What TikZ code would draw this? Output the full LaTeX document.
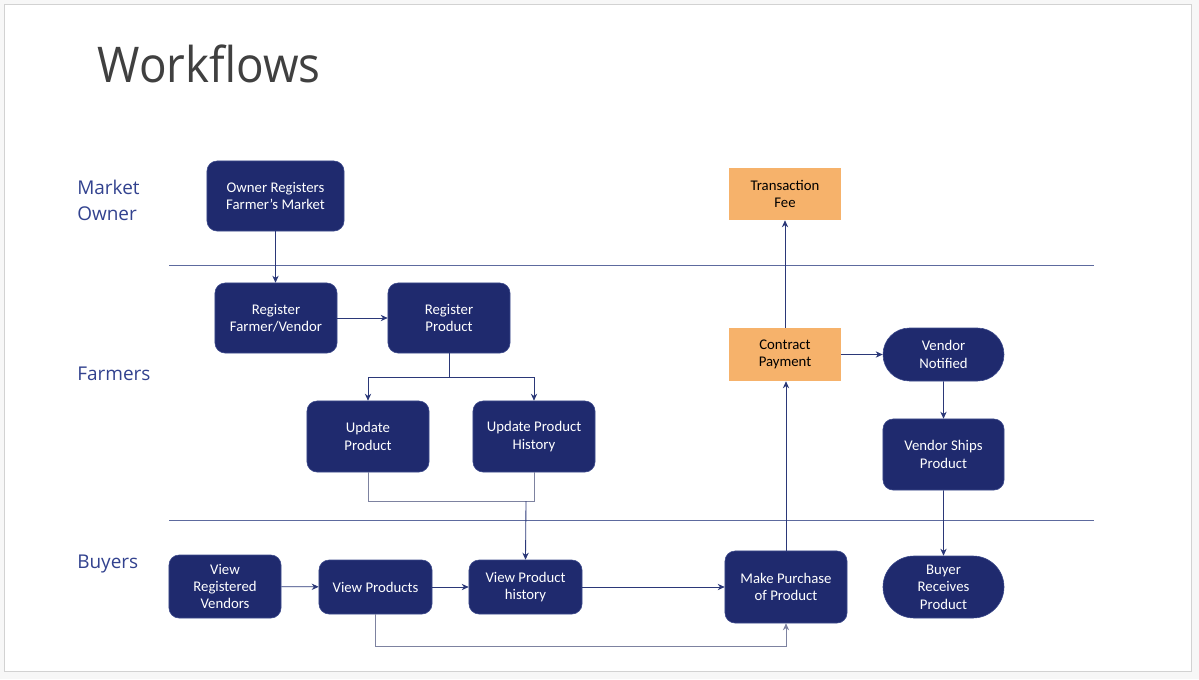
\documentclass[tikz,border=0pt]{standalone}
\usepackage{fontspec}
\setmainfont{Carlito}
\newfontfamily\lanefont{Open Sans}
\usepackage{tikz}
\usetikzlibrary{arrows.meta}
\usetikzlibrary{shapes.misc}

\definecolor{navy}{HTML}{1F2A6E}
\definecolor{navyedge}{HTML}{3C4A8C}
\definecolor{feeorange}{HTML}{F6B26B}
\definecolor{flowline}{HTML}{2B3878}
\definecolor{laneline}{HTML}{5D6A9E}
\definecolor{lanetext}{HTML}{32428F}
\definecolor{softline}{HTML}{7D82A0}
\definecolor{titlegray}{HTML}{404040}

\tikzset{
  task/.style={draw=navyedge, fill=navy, text=white, rounded corners=0.25cm,
    align=center, inner sep=0pt, font=\fontsize{10.5}{12.4}\selectfont},
  fee/.style={fill=feeorange, text=black, align=center, inner sep=0pt,
    font=\fontsize{10.5}{12.4}\selectfont},
  event/.style={draw=navyedge, fill=navy, text=white, rounded rectangle,
    align=center, inner sep=0pt, font=\fontsize{10.5}{12.4}\selectfont},
  lane/.style={text=lanetext, align=left, anchor=west, inner sep=0pt,
    font=\lanefont\fontsize{13.5}{19}\selectfont},
}

\begin{document}
\begin{tikzpicture}[x=0.025cm, y=-0.025cm]
\useasboundingbox (0,0) rectangle (1199,679);
\fill[gray!6] (0,0) rectangle (1199,679);
\draw[gray!35, fill=white] (4,4) rectangle (1191,671);

\node[anchor=west, text=titlegray, font=\lanefont\fontsize{35}{40}\selectfont, xscale=0.93] (title) at (93,64) {Workflows};

% swim lanes
\node[lane] (owners) at (77,200.5) {Market\\Owner};
\node[lane] (farmers) at (77,374) {Farmers};
\node[lane] (buyers) at (77,564) {Buyers};
\draw[laneline, line width=0.7pt] (169,265) -- (1094,265);
\draw[laneline, line width=0.7pt] (169,520) -- (1094,520);

% market owner
\node[task, minimum width=3.425cm, minimum height=1.75cm] (ownreg) at (275.5,196) {Owner Registers\\Farmer's Market};
\node[fee, minimum width=2.8cm, minimum height=1.3cm] (txfee) at (785,194) {Transaction\\Fee};

% farmers
\node[task, minimum width=3.05cm, minimum height=1.75cm] (regfarmer) at (276,318) {Register\\Farmer/Vendor};
\node[task, minimum width=3.05cm, minimum height=1.75cm] (regprod) at (449,318) {Register\\Product};
\node[task, minimum width=3.05cm, minimum height=1.775cm] (updprod) at (368,436.5) {Update\\Product};
\node[task, minimum width=3.05cm, minimum height=1.775cm] (updhist) at (534,436.5) {Update Product\\History};
\node[fee, minimum width=2.8cm, minimum height=1.325cm] (contract) at (785,354.5) {Contract\\Payment};
\node[event, minimum width=3.025cm, minimum height=1.325cm] (notified) at (943.5,354.5) {Vendor\\Notified};
\node[task, minimum width=3.025cm, minimum height=1.775cm] (ships) at (943.5,454.5) {Vendor Ships\\Product};

% buyers
\node[task, minimum width=2.8cm, minimum height=1.575cm] (viewreg) at (225,586.5) {View\\Registered\\Vendors};
\node[task, minimum width=2.825cm, minimum height=1.35cm] (viewprod) at (375.5,587) {View Products};
\node[task, minimum width=2.825cm, minimum height=1.35cm] (viewhist) at (525.5,587) {View Product\\history};
\node[task, minimum width=3.05cm, minimum height=1.8cm] (purchase) at (786,587) {Make Purchase\\of Product};
\node[event, minimum width=3.025cm, minimum height=1.55cm] (receives) at (943.5,587) {Buyer\\Receives\\Product};

\coordinate (split) at (449,377);
\coordinate (merge) at (526,501);

\begin{scope}[>={Stealth[length=5pt, width=4.5pt]}, line width=0.6pt,
              every edge/.style={draw=flowline}]
    \path [->] (ownreg.south) edge (ownreg.south |- regfarmer.north);
    \path [->] (regfarmer) edge (regprod);
    \draw[flowline] (regprod.south) -- (split);
    \draw[flowline, ->] (split) -| (updprod.north);
    \draw[flowline, ->] (split) -| (updhist.north);
    \draw[softline] (updprod.south) |- (updhist.south |- merge) -- (updhist.south);
    \path [->] (merge) edge (viewhist.north);
    \path [->] (viewreg) edge (viewprod);
    \path [->] (viewprod) edge (viewhist);
    \path [->] (viewhist) edge (purchase);
    \draw[softline, ->] (viewprod.south) -- ++(0,32) -| (purchase.south);
    \path [->] (purchase.north) edge (purchase.north |- contract.south);
    \path [->] (contract) edge (txfee);
    \path [->] (contract) edge (notified);
    \path [->] (notified) edge (ships);
    \path [->] (ships) edge (receives);
\end{scope}
\end{tikzpicture}
\end{document}
